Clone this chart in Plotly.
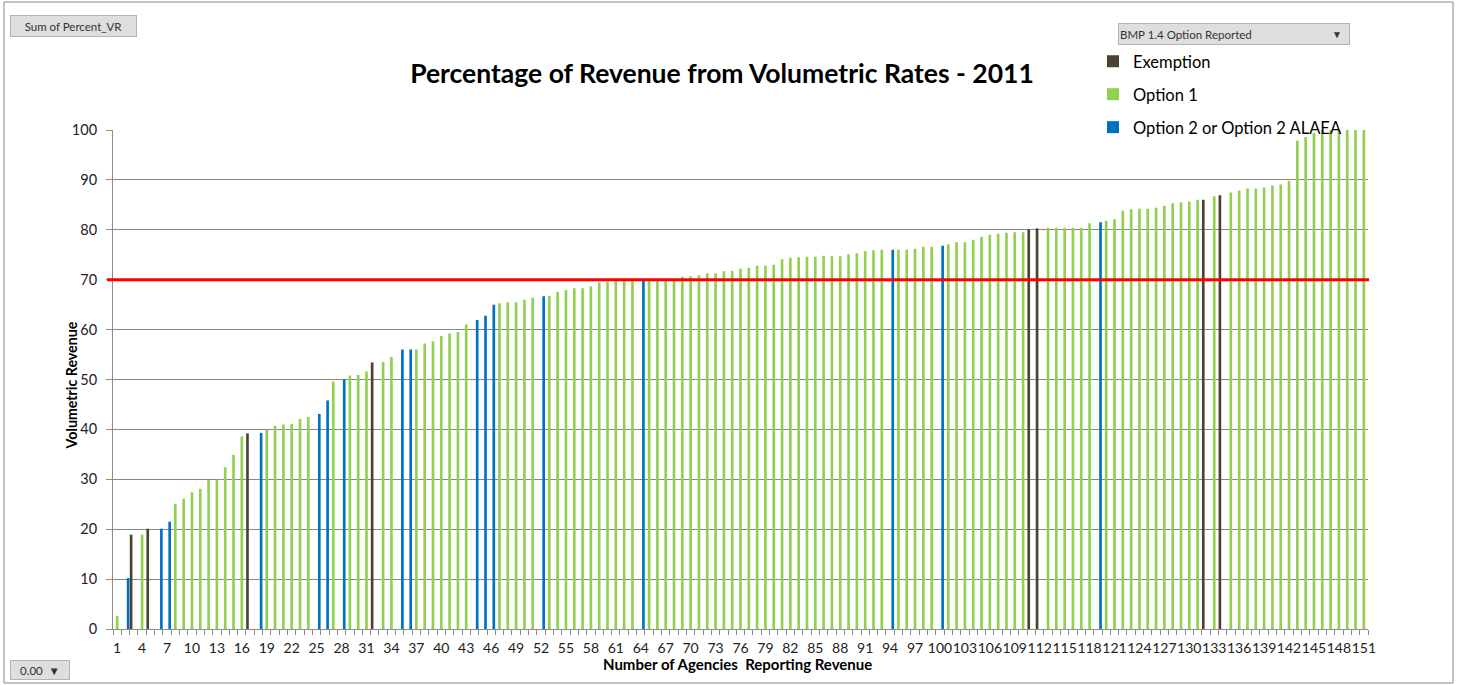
import plotly.graph_objects as go

# ---------------- data ----------------
agency = list(range(1, 152))
values = [
    2.6, 10.2, 18.9, 18.9, 20.1, 20.1, 21.5, 25.1, 26.1, 27.4,
    28.1, 29.9, 29.9, 32.4, 34.9, 38.6, 39.2, 39.3, 39.9, 40.7,
    41.0, 41.1, 42.1, 42.5, 43.1, 45.8, 49.6, 50.0, 50.8, 50.9,
    51.6, 53.4, 53.5, 54.5, 56.0, 56.0, 56.0, 57.2, 57.6, 58.7,
    59.2, 59.5, 61.0, 61.9, 62.8, 65.0, 65.3, 65.5, 65.5, 66.0,
    66.4, 66.7, 66.8, 67.6, 67.9, 68.3, 68.3, 68.7, 69.5, 69.6,
    69.9, 69.9, 69.9, 69.9, 69.9, 69.9, 69.9, 70.0, 70.6, 70.7,
    70.9, 71.3, 71.3, 71.7, 71.8, 72.2, 72.4, 72.8, 72.8, 73.0,
    74.1, 74.4, 74.5, 74.6, 74.6, 74.8, 74.7, 74.7, 75.1, 75.3,
    75.7, 75.9, 76.0, 76.0, 76.0, 76.0, 76.2, 76.6, 76.6, 76.8,
    77.1, 77.5, 77.5, 78.0, 78.6, 79.0, 79.2, 79.4, 79.5, 79.5,
    80.1, 80.3, 80.4, 80.4, 80.4, 80.4, 80.4, 81.3, 81.5, 81.8,
    82.1, 83.8, 84.1, 84.2, 84.2, 84.4, 84.8, 85.3, 85.5, 85.6,
    86.0, 86.0, 86.7, 86.9, 87.5, 87.9, 88.3, 88.3, 88.5, 88.9,
    89.1, 89.8, 97.9, 98.6, 99.4, 100.0, 100.0, 100.0, 100.0, 100.0,
    100.0,
]
exemption_ids = [3, 5, 17, 32, 111, 112, 132, 134]
option2_ids = [2, 6, 7, 18, 25, 26, 28, 35, 36, 44, 45, 46, 52, 64, 94, 100, 119]
series_names = ["Exemption", "Option 1", "Option 2 or Option 2 ALAEA"]
series_colors = ["#4a4331", "#92d050", "#0070c0"]
threshold = 70
x_tick_vals = list(range(1, 152, 3))
x_tick_text = [str(v) for v in x_tick_vals]
y_tick_vals = list(range(0, 101, 10))

def group_of(a):
    if a in exemption_ids:
        return series_names[0]
    if a in option2_ids:
        return series_names[2]
    return series_names[1]

groups = [group_of(a) for a in agency]

# ---------------- layout helpers ----------------
W, H = 1458, 685
L, R, T, B = 113, 1458 - 1368, 130, 685 - 629
PW, PH = W - L - R, H - T - B

def px2x(px):
    return (px - L) / PW

def py2y(py):
    return (H - B - py) / PH

FONT = "Lato"

fig = go.Figure()
for name, color in zip(series_names, series_colors):
    ys = [v if g == name else None for v, g in zip(values, groups)]
    fig.add_trace(go.Bar(
        x=agency, y=ys, name=name, marker=dict(color=color, line=dict(width=0)),
        legendgroup=name,
    ))

fig.update_layout(
    width=W, height=H,
    margin=dict(l=L, r=R, t=T, b=B),
    paper_bgcolor="white", plot_bgcolor="white",
    barmode="group", bargap=0.04, bargroupgap=0.0,
    font=dict(family=FONT, color="#000000"),
    title=dict(
        text="<b>Percentage of Revenue from Volumetric Rates - 2011</b>",
        x=722 / W, xref="container", xanchor="center",
        y=1 - 74 / H, yref="container", yanchor="middle",
        font=dict(family=FONT, size=26.5, color="#000000"),
    ),
    legend=dict(
        x=px2x(1093), y=py2y(44), xanchor="left", yanchor="top",
        font=dict(family=FONT, size=16.5, color="#000000"),
        tracegroupgap=8.5, bgcolor="rgba(0,0,0,0)", itemwidth=30,
        traceorder="grouped",
    ),
    xaxis=dict(
        range=[0.5, 151.5], tickmode="array", tickvals=x_tick_vals, ticktext=x_tick_text,
        ticks="", tickangle=0, showgrid=False, zeroline=False,
        showline=True, linecolor="#8c8c8c", linewidth=1,
        tickfont=dict(family=FONT, size=14, color="#222222"),
        ticklabelstandoff=6,
        minor=dict(tickmode="linear", tick0=0.5, dtick=1, ticks="outside",
                   ticklen=5, tickcolor="#8c8c8c", showgrid=False),
    ),
    yaxis=dict(
        range=[0, 100], tickmode="array", tickvals=y_tick_vals,
        showgrid=True, gridcolor="#888888", gridwidth=1, zeroline=False,
        showline=True, linecolor="#8c8c8c", linewidth=1,
        ticks="outside", ticklen=6, tickcolor="#8c8c8c",
        tickfont=dict(family=FONT, size=14.5, color="#222222"),
        ticklabelstandoff=6,
    ),
)

# threshold line
fig.add_shape(type="line", xref="paper", yref="y", x0=px2x(107), x1=px2x(1369),
              y0=threshold, y1=threshold, line=dict(color="#ff0000", width=3), layer="above")

# outer border
fig.add_shape(type="rect", xref="paper", yref="paper", x0=px2x(4), x1=px2x(1453),
              y0=py2y(683), y1=py2y(2), line=dict(color="#8a8a8a", width=1), layer="below")

# axis titles
fig.add_annotation(text="<b>Volumetric Revenue</b>", xref="paper", yref="paper",
                   x=px2x(60), y=py2y(386), textangle=-90, showarrow=False,
                   font=dict(family=FONT, size=14.2, color="#000000"))
fig.add_annotation(text="<b>Number of Agencies  Reporting Revenue</b>", xref="paper", yref="paper",
                   x=px2x(737), y=py2y(675), showarrow=False,
                   font=dict(family=FONT, size=15, color="#000000"))

# pivot field buttons
btn = dict(bgcolor="#dedede", bordercolor="#b4b4b4", borderwidth=1, showarrow=False,
           xref="paper", yref="paper", font=dict(family=FONT, size=11.5, color="#333333"))
fig.add_annotation(text="Sum of Percent_VR", x=px2x(10), y=py2y(26), xanchor="left",
                   yanchor="middle", width=123, height=18, borderpad=1, **btn)
fig.add_annotation(text="BMP 1.4 Option Reported", x=px2x(1118), y=py2y(34), xanchor="left",
                   yanchor="middle", width=228, height=18, align="left", borderpad=1, **btn)
fig.add_annotation(text="▼", x=px2x(1337), y=py2y(34), xanchor="center", yanchor="middle",
                   showarrow=False, xref="paper", yref="paper",
                   font=dict(family=FONT, size=10, color="#333333"))
fig.add_annotation(text="0.00  ▼", x=px2x(10), y=py2y(670), xanchor="left",
                   yanchor="middle", width=56, height=16, borderpad=1, **btn)

fig.write_html("out.html", config={"displayModeBar": False},
               post_script="document.body.style.margin='0';")
